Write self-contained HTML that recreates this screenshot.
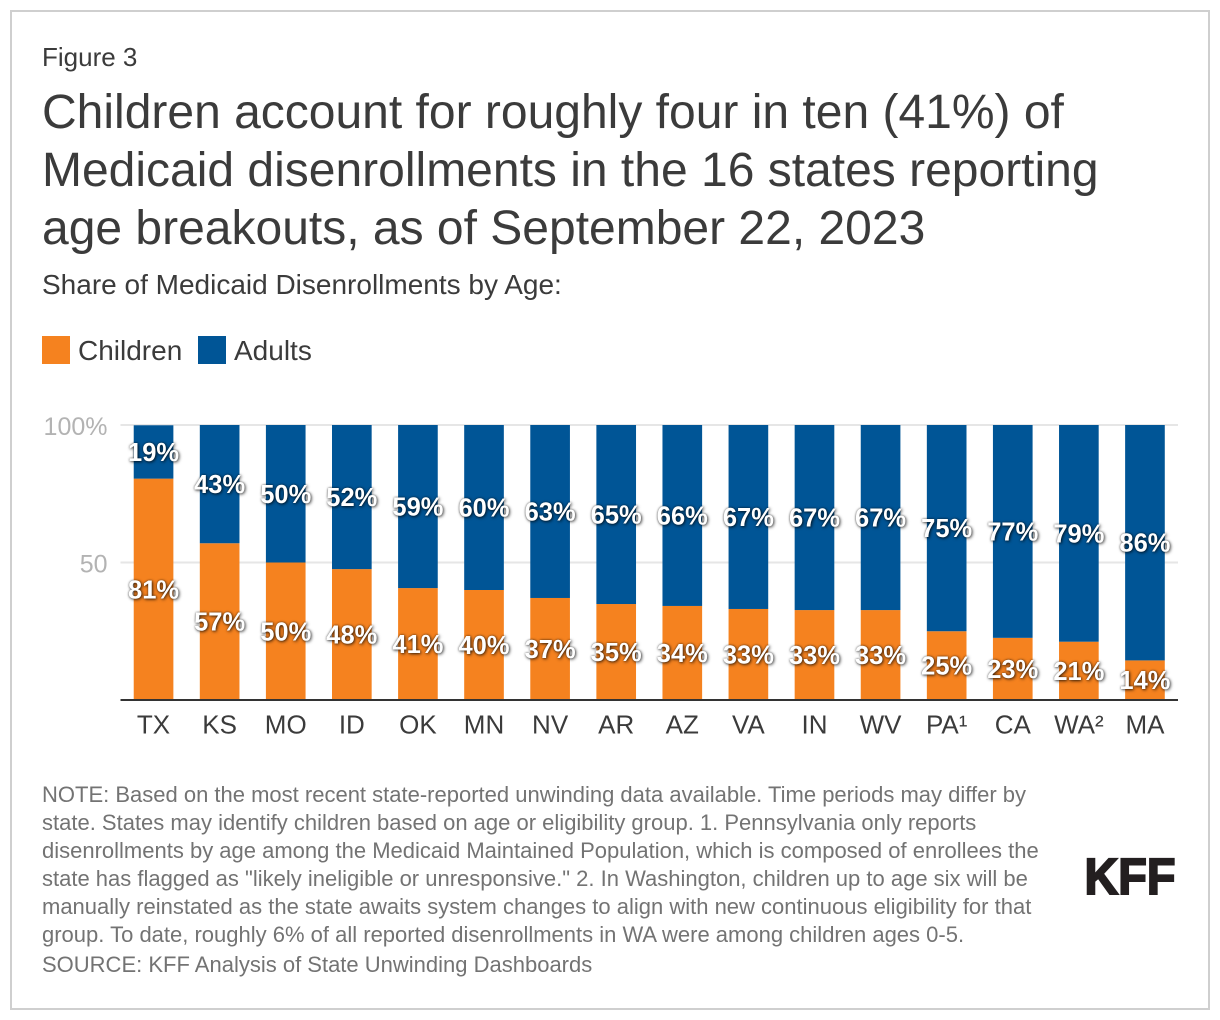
<!DOCTYPE html>
<html lang="en">
<head>
<meta charset="utf-8">
<title>Children account for roughly four in ten Medicaid disenrollments</title>
<style>
  html, body { margin: 0; padding: 0; background: #fff; }
  body { width: 1220px; height: 1020px; position: relative; overflow: hidden; font-family: "Liberation Sans", Arial, sans-serif; }
  #frame { position: absolute; left: 10px; top: 10px; width: 1196px; height: 996px; border: 2px solid #cfcfcf; }
  .t { position: absolute; white-space: nowrap; margin: 0; font-weight: normal; }
  #figure-label { left: 42px; top: 43px; font-size: 26px; line-height: 29px; color: #3b3b3b; }
  .title-line { left: 42px; font-size: 48px; line-height: 58px; color: #3b3b3b; }
  #subtitle { left: 42px; top: 269px; font-size: 28px; line-height: 31px; color: #3b3b3b; }
  .swatch { position: absolute; top: 336px; width: 28px; height: 28px; }
  .legend-text { top: 335px; font-size: 28px; line-height: 31px; color: #3b3b3b; }
  .note { left: 42px; font-size: 22px; line-height: 28px; color: #737373; }
  #chart { position: absolute; left: 0; top: 0; }
  .bar-label { font-size: 25.5px; font-weight: bold; fill: #fff; text-anchor: middle; text-shadow: 1px 1px 3px rgba(0,0,0,.7), 0 0 2px rgba(0,0,0,.55); }
  #logo { position: absolute; left: 0; top: 0; }
</style>
</head>
<body>
<div id="frame"></div>
<div class="t" id="figure-label">Figure 3</div>
<h1 style="margin:0;font-weight:normal">
  <span class="t title-line" style="top:84px">Children account for roughly four in ten (41%) of</span>
  <span class="t title-line" style="top:142px">Medicaid disenrollments in the 16 states reporting</span>
  <span class="t title-line" style="top:200px">age breakouts, as of September 22, 2023</span>
</h1>
<div class="t" id="subtitle">Share of Medicaid Disenrollments by Age:</div>

<div class="swatch" style="left:42px;background:#f5821f"></div>
<div class="t legend-text" style="left:78px">Children</div>
<div class="swatch" style="left:198px;background:#005596"></div>
<div class="t legend-text" style="left:234px">Adults</div>

<svg id="chart" width="1220" height="760" viewBox="0 0 1220 760" xmlns="http://www.w3.org/2000/svg"></svg>

<div>
  <div class="t note" style="top:781px">NOTE: Based on the most recent state-reported unwinding data available. Time periods may differ by</div>
  <div class="t note" style="top:809px">state. States may identify children based on age or eligibility group. 1. Pennsylvania only reports</div>
  <div class="t note" style="top:837px">disenrollments by age among the Medicaid Maintained Population, which is composed of enrollees the</div>
  <div class="t note" style="top:865px">state has flagged as "likely ineligible or unresponsive." 2. In Washington, children up to age six will be</div>
  <div class="t note" style="top:893px">manually reinstated as the state awaits system changes to align with new continuous eligibility for that</div>
  <div class="t note" style="top:921px">group. To date, roughly 6% of all reported disenrollments in WA were among children ages 0-5.</div>
  <div class="t note" style="top:951px">SOURCE: KFF Analysis of State Unwinding Dashboards</div>
</div>

<svg id="logo" width="1220" height="1020" xmlns="http://www.w3.org/2000/svg" style="pointer-events:none">
  <text x="1084.5" y="894" font-family="'Liberation Sans', Arial, sans-serif" font-weight="bold" font-size="51" fill="#231f20" stroke="#231f20" stroke-width="2" textLength="91" lengthAdjust="spacingAndGlyphs">KFF</text>
</svg>

<script>
const categories = ['TX','KS','MO','ID','OK','MN','NV','AR','AZ','VA','IN','WV','PA¹','CA','WA²','MA'];
const childrenValues = [80.5,57,50,47.6,40.7,40,37.1,34.9,34.2,33.1,32.7,32.7,25,22.6,21.2,14.4];
const adultsValues = [19.4,43,50,52.4,59.3,60,62.9,65.1,65.8,66.9,67.3,67.3,75,77.4,78.8,85.6];
const yTickValues = [100,50];
const yTickLabels = ['100%','50'];

const SVG_NS = 'http://www.w3.org/2000/svg';
const chart = document.getElementById('chart');
const plotLeft = 120.5, plotRight = 1178, plotTop = 425, plotBottom = 700, yMax = 100;
const bandWidth = (plotRight - plotLeft) / categories.length;
const barWidth = bandWidth * 0.6;
function yScale(v) { return plotBottom - (v / yMax) * (plotBottom - plotTop); }
function xCenter(i) { return plotLeft + bandWidth * (i + 0.5); }
function make(tag, attrs, parent) {
  const el = document.createElementNS(SVG_NS, tag);
  Object.keys(attrs).forEach(function (k) { el.setAttribute(k, attrs[k]); });
  (parent || chart).appendChild(el);
  return el;
}
const FONT = "'Liberation Sans', Arial, sans-serif";

yTickValues.forEach(function (v, i) {
  const grid = make('line', { x1: plotLeft, x2: plotRight, y1: yScale(v), y2: yScale(v), stroke: '#e6e6e6', 'stroke-width': 2 });
  
  
  const tick = make('text', { x: 107.5, y: yScale(v) + 10, 'text-anchor': 'end', 'font-family': FONT, 'font-size': 25, fill: '#b3b3b3' });
  
  
  tick.textContent = yTickLabels[i];
});

categories.forEach(function (cat, i) {
  const x = xCenter(i) - barWidth / 2;
  const c = childrenValues[i], a = adultsValues[i];
  const barC = make('rect', { x: x, y: yScale(c), width: barWidth, height: yScale(0) - yScale(c), fill: '#f5821f' });
  
  
  const barA = make('rect', { x: x, y: yScale(c + a), width: barWidth, height: yScale(c) - yScale(c + a), fill: '#005596' });
  
  
  const cat_label = make('text', { x: xCenter(i), y: 733.5, 'text-anchor': 'middle', 'font-family': FONT, 'font-size': 26, fill: '#3b3b3b' });
  
  
  cat_label.textContent = cat;
});

categories.forEach(function (cat, i) {
  const c = childrenValues[i], a = adultsValues[i];
  const labelA = make('text', { x: xCenter(i), y: yScale(c + a / 2) + 9, 'font-family': FONT, 'class': 'bar-label' });
  
  
  labelA.textContent = Math.round(a) + '%';
  const labelC = make('text', { x: xCenter(i), y: yScale(c / 2) + 9, 'font-family': FONT, 'class': 'bar-label' });
  
  
  labelC.textContent = Math.round(c) + '%';
});

const axis = make('line', { x1: plotLeft, x2: plotRight, y1: plotBottom, y2: plotBottom, stroke: '#333333', 'stroke-width': 2 });


</script>
</body>
</html>
